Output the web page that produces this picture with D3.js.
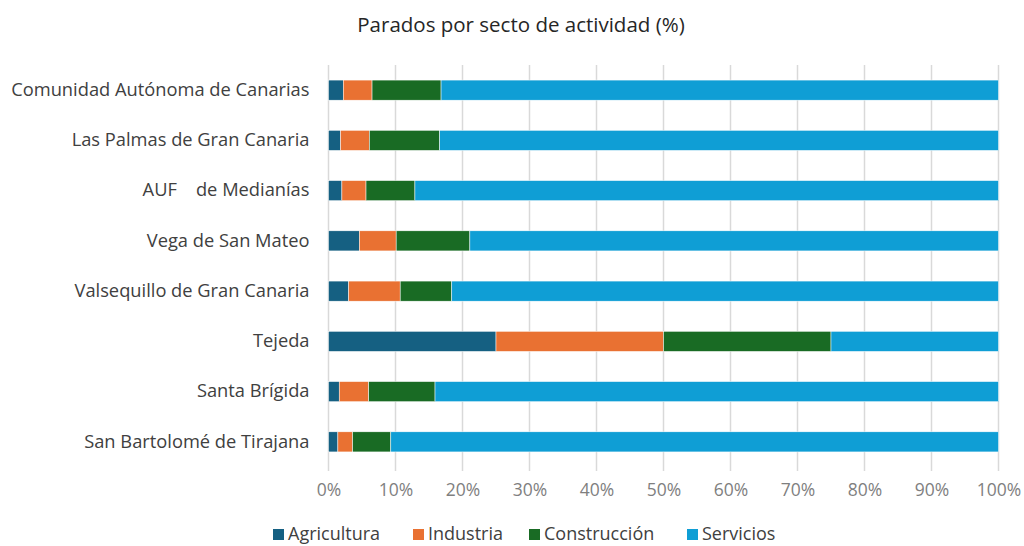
<!DOCTYPE html>
<html>
<head>
<meta charset="utf-8">
<script src="https://cdn.jsdelivr.net/npm/d3@7"></script>
<style>
  body { margin: 0; background: #fff; }
  text { font-family: "Open Sans", "Noto Sans", sans-serif; }
</style>
</head>
<body>
<div id="chart"></div>
<script>
// data (%)
const categories = [
  "Comunidad Autónoma de Canarias",
  "Las Palmas de Gran Canaria",
  "AUF    de Medianías",
  "Vega de San Mateo",
  "Valsequillo de Gran Canaria",
  "Tejeda",
  "Santa Brígida",
  "San Bartolomé de Tirajana"
];
const seriesNames = ["Agricultura", "Industria", "Construcción", "Servicios"];
const agricultura  = [2.2, 1.8, 2.0, 4.6, 3.0, 25, 1.6, 1.4];
const industria    = [4.3, 4.3, 3.6, 5.5, 7.7, 25, 4.4, 2.2];
const construccion = [10.3, 10.5, 7.3, 11.0, 7.7, 25, 9.9, 5.7];
const servicios    = [83.2, 83.4, 87.1, 78.9, 81.6, 25, 84.1, 90.7];
const xTicks = [0, 10, 20, 30, 40, 50, 60, 70, 80, 90, 100];

const colors = ["#156082", "#E97132", "#196B24", "#0F9ED5"];

var width = 1024, height = 546;
var margin = {top: 65, left: 328.5, right: 25.5, bottom: 79};

var svg = d3.select("#chart").append("svg")
    .attr("width", width).attr("height", height);

// build rows for the stack
var rows = categories.map(function(c, i) {
    return {cat: c, Agricultura: agricultura[i], Industria: industria[i],
            "Construcción": construccion[i], Servicios: servicios[i]};
});
var stacked = d3.stack().keys(seriesNames).offset(d3.stackOffsetExpand)(rows);

var x = d3.scaleLinear().domain([0, 1]).range([margin.left, width - margin.right]);
var y = d3.scaleBand().domain(categories)
    .range([margin.top, height - margin.bottom]).paddingInner(0.6).paddingOuter(0.3);

// title
svg.append("text")
    .attr("x", 521).attr("y", 32)
    .attr("text-anchor", "middle")
    .attr("font-size", 20.5).attr("fill", "#262626")
    .text("Parados por secto de actividad (%)");

// gridlines
svg.append("g").selectAll("line")
  .data(xTicks).enter().append("line")
    .attr("x1", d => x(d / 100)).attr("x2", d => x(d / 100))
    .attr("y1", margin.top).attr("y2", height - margin.bottom + 4)
    .attr("stroke", "#d9d9d9").attr("stroke-width", 1.5);

// bars
svg.append("g").selectAll("g")
  .data(stacked).enter().append("g")
    .attr("fill", (d, i) => colors[i])
  .selectAll("rect")
  .data(d => d).enter().append("rect")
    .attr("x", d => x(d[0]))
    .attr("width", d => x(d[1]) - x(d[0]))
    .attr("y", d => y(d.data.cat))
    .attr("height", y.bandwidth())
    .attr("stroke", "#fff").attr("stroke-width", 0.5);

// x axis
var xAxis = svg.append("g")
    .attr("transform", `translate(0,${height - margin.bottom})`)
    .call(d3.axisBottom(x).tickValues(xTicks.map(d => d / 100))
          .tickFormat(d => Math.round(d * 100) + "%").tickSize(0).tickPadding(17));
xAxis.select(".domain").remove();
xAxis.selectAll("text")
    .attr("font-size", 17.5).attr("fill", "#7f7f7f")
    .style("font-family", "'Open Sans', sans-serif");

// y axis
var yAxis = svg.append("g")
    .attr("transform", `translate(${margin.left},0)`)
    .call(d3.axisLeft(y).tickSize(0).tickPadding(19));
yAxis.select(".domain").remove();
yAxis.selectAll("text")
    .attr("font-size", 18.3).attr("fill", "#404040")
    .style("white-space", "pre")
    .style("font-family", "'Open Sans', sans-serif");

// legend
var legendX = [273, 413, 529, 687];
var legend = svg.append("g").selectAll("g")
  .data(seriesNames).enter().append("g")
    .attr("transform", (d, i) => `translate(${legendX[i]},529)`);
legend.append("rect")
    .attr("width", 11).attr("height", 11)
    .attr("fill", (d, i) => colors[i]);
legend.append("text")
    .attr("x", 15).attr("y", 11)
    .attr("font-size", 18).attr("fill", "#404040")
    .text(d => d);
</script>
</body>
</html>
